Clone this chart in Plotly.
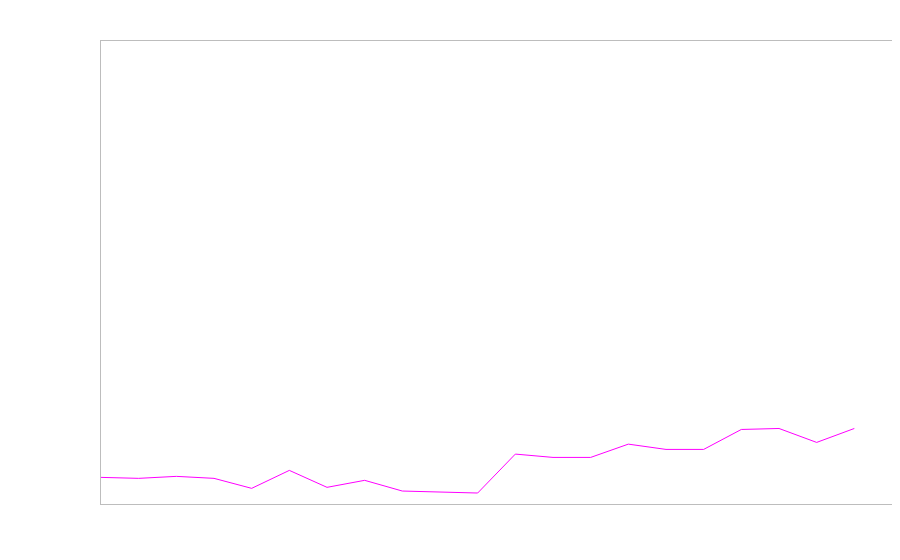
import plotly.graph_objects as go

x_vals = list(range(21))
y_vals = [5.75, 5.54, 5.97, 5.54, 3.38, 7.26, 3.60, 5.11, 2.80, 2.59, 2.37,
          10.78, 10.06, 10.06, 12.93, 11.79, 11.79, 16.10, 16.31, 13.30, 16.31]

fig = go.Figure()
fig.add_trace(go.Scatter(x=x_vals, y=y_vals, mode="lines",
                         line=dict(color="#ff00ff", width=1), showlegend=False))

axis_style = dict(showgrid=False, zeroline=False, showticklabels=False, ticks="",
                  showline=True, mirror=True, linecolor="#bdbdbd", linewidth=1)
fig.update_xaxes(range=[0, 21], **axis_style)
fig.update_yaxes(range=[0, 100], **axis_style)
fig.update_layout(width=892, height=552, plot_bgcolor="white", paper_bgcolor="white",
                  margin=dict(l=93, r=8, t=33, b=56))
fig.write_html("out.html")
